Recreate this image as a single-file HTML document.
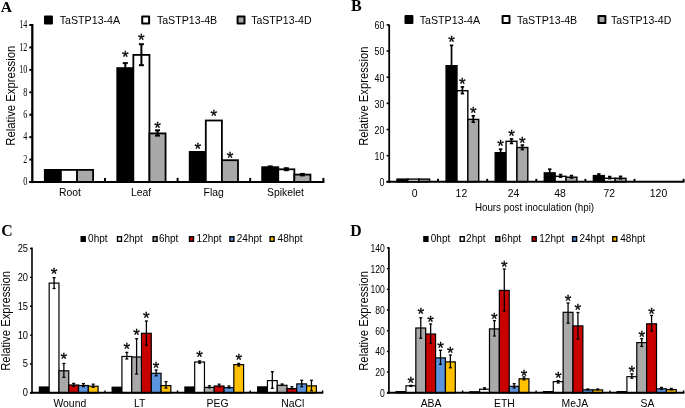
<!DOCTYPE html><html><head><meta charset="utf-8"><style>html,body{margin:0;padding:0;background:#fff;overflow:hidden;width:685px;height:408px;}svg{display:block;will-change:transform;}</style></head><body>
<svg width="685" height="408" viewBox="0 0 685 408">
<rect width="685" height="408" fill="#fff"/>
<rect x="44.80" y="169.90" width="16.10" height="12.10" fill="#000" stroke="#000" stroke-width="1.8"/>
<rect x="60.90" y="169.90" width="16.10" height="12.10" fill="#fff" stroke="#000" stroke-width="1.8"/>
<rect x="77.00" y="169.90" width="16.10" height="12.10" fill="#a9a9a9" stroke="#000" stroke-width="1.8"/>
<rect x="117.25" y="68.10" width="16.10" height="113.90" fill="#000" stroke="#000" stroke-width="1.8"/>
<rect x="133.35" y="54.90" width="16.10" height="127.10" fill="#fff" stroke="#000" stroke-width="1.8"/>
<rect x="149.45" y="133.40" width="16.10" height="48.60" fill="#a9a9a9" stroke="#000" stroke-width="1.8"/>
<rect x="189.70" y="151.90" width="16.10" height="30.10" fill="#000" stroke="#000" stroke-width="1.8"/>
<rect x="205.80" y="120.50" width="16.10" height="61.50" fill="#fff" stroke="#000" stroke-width="1.8"/>
<rect x="221.90" y="160.20" width="16.10" height="21.80" fill="#a9a9a9" stroke="#000" stroke-width="1.8"/>
<rect x="262.15" y="167.20" width="16.10" height="14.80" fill="#000" stroke="#000" stroke-width="1.8"/>
<rect x="278.25" y="169.30" width="16.10" height="12.70" fill="#fff" stroke="#000" stroke-width="1.8"/>
<rect x="294.35" y="174.60" width="16.10" height="7.40" fill="#a9a9a9" stroke="#000" stroke-width="1.8"/>
<line x1="125.3" y1="63.1" x2="125.3" y2="71.3" stroke="#000" stroke-width="2.0" stroke-linecap="butt"/>
<line x1="122.8" y1="63.1" x2="127.8" y2="63.1" stroke="#000" stroke-width="2.0" stroke-linecap="butt"/>
<line x1="122.8" y1="71.3" x2="127.8" y2="71.3" stroke="#000" stroke-width="2.0" stroke-linecap="butt"/>
<line x1="141.4" y1="44.2" x2="141.4" y2="65.2" stroke="#000" stroke-width="2.0" stroke-linecap="butt"/>
<line x1="138.9" y1="44.2" x2="143.9" y2="44.2" stroke="#000" stroke-width="2.0" stroke-linecap="butt"/>
<line x1="138.9" y1="65.2" x2="143.9" y2="65.2" stroke="#000" stroke-width="2.0" stroke-linecap="butt"/>
<line x1="157.5" y1="130.3" x2="157.5" y2="135.6" stroke="#000" stroke-width="2.0" stroke-linecap="butt"/>
<line x1="155.0" y1="130.3" x2="160.0" y2="130.3" stroke="#000" stroke-width="2.0" stroke-linecap="butt"/>
<line x1="155.0" y1="135.6" x2="160.0" y2="135.6" stroke="#000" stroke-width="2.0" stroke-linecap="butt"/>
<line x1="270.2" y1="166.4" x2="270.2" y2="168.6" stroke="#000" stroke-width="2.0" stroke-linecap="butt"/>
<line x1="267.7" y1="166.4" x2="272.7" y2="166.4" stroke="#000" stroke-width="2.0" stroke-linecap="butt"/>
<line x1="267.7" y1="168.6" x2="272.7" y2="168.6" stroke="#000" stroke-width="2.0" stroke-linecap="butt"/>
<line x1="286.3" y1="168.2" x2="286.3" y2="170.2" stroke="#000" stroke-width="2.0" stroke-linecap="butt"/>
<line x1="283.8" y1="168.2" x2="288.8" y2="168.2" stroke="#000" stroke-width="2.0" stroke-linecap="butt"/>
<line x1="283.8" y1="170.2" x2="288.8" y2="170.2" stroke="#000" stroke-width="2.0" stroke-linecap="butt"/>
<line x1="302.4" y1="173.9" x2="302.4" y2="175.4" stroke="#000" stroke-width="2.0" stroke-linecap="butt"/>
<line x1="299.9" y1="173.9" x2="304.9" y2="173.9" stroke="#000" stroke-width="2.0" stroke-linecap="butt"/>
<line x1="299.9" y1="175.4" x2="304.9" y2="175.4" stroke="#000" stroke-width="2.0" stroke-linecap="butt"/>
<text x="125.30" y="62.77" font-size="17" font-family='"Liberation Sans", sans-serif' text-anchor="middle" stroke="#000" stroke-width="0.3">*</text>
<text x="141.40" y="46.32" font-size="17" font-family='"Liberation Sans", sans-serif' text-anchor="middle" stroke="#000" stroke-width="0.3">*</text>
<text x="157.50" y="133.67" font-size="17" font-family='"Liberation Sans", sans-serif' text-anchor="middle" stroke="#000" stroke-width="0.3">*</text>
<text x="197.75" y="154.67" font-size="17" font-family='"Liberation Sans", sans-serif' text-anchor="middle" stroke="#000" stroke-width="0.3">*</text>
<text x="213.85" y="121.82" font-size="17" font-family='"Liberation Sans", sans-serif' text-anchor="middle" stroke="#000" stroke-width="0.3">*</text>
<text x="229.95" y="163.97" font-size="17" font-family='"Liberation Sans", sans-serif' text-anchor="middle" stroke="#000" stroke-width="0.3">*</text>
<line x1="32.3" y1="24.0" x2="32.3" y2="183.1" stroke="#000" stroke-width="2.3" stroke-linecap="butt"/>
<line x1="29.3" y1="182.0" x2="324.3" y2="182.0" stroke="#000" stroke-width="2.2" stroke-linecap="butt"/>
<line x1="29.299999999999997" y1="182.0" x2="32.3" y2="182.0" stroke="#000" stroke-width="2.0" stroke-linecap="butt"/>
<text x="27.3" y="185.3" font-size="11.6" font-family='"Liberation Serif", serif' font-weight="normal" text-anchor="end" textLength="4.06" lengthAdjust="spacingAndGlyphs">0</text>
<line x1="29.299999999999997" y1="159.572" x2="32.3" y2="159.572" stroke="#000" stroke-width="2.0" stroke-linecap="butt"/>
<text x="27.3" y="162.872" font-size="11.6" font-family='"Liberation Serif", serif' font-weight="normal" text-anchor="end" textLength="4.06" lengthAdjust="spacingAndGlyphs">2</text>
<line x1="29.299999999999997" y1="137.144" x2="32.3" y2="137.144" stroke="#000" stroke-width="2.0" stroke-linecap="butt"/>
<text x="27.3" y="140.44400000000002" font-size="11.6" font-family='"Liberation Serif", serif' font-weight="normal" text-anchor="end" textLength="4.06" lengthAdjust="spacingAndGlyphs">4</text>
<line x1="29.299999999999997" y1="114.716" x2="32.3" y2="114.716" stroke="#000" stroke-width="2.0" stroke-linecap="butt"/>
<text x="27.3" y="118.01599999999999" font-size="11.6" font-family='"Liberation Serif", serif' font-weight="normal" text-anchor="end" textLength="4.06" lengthAdjust="spacingAndGlyphs">6</text>
<line x1="29.299999999999997" y1="92.288" x2="32.3" y2="92.288" stroke="#000" stroke-width="2.0" stroke-linecap="butt"/>
<text x="27.3" y="95.588" font-size="11.6" font-family='"Liberation Serif", serif' font-weight="normal" text-anchor="end" textLength="4.06" lengthAdjust="spacingAndGlyphs">8</text>
<line x1="29.299999999999997" y1="69.86" x2="32.3" y2="69.86" stroke="#000" stroke-width="2.0" stroke-linecap="butt"/>
<text x="27.3" y="73.16" font-size="11.6" font-family='"Liberation Serif", serif' font-weight="normal" text-anchor="end" textLength="8.12" lengthAdjust="spacingAndGlyphs">10</text>
<line x1="29.299999999999997" y1="47.43199999999999" x2="32.3" y2="47.43199999999999" stroke="#000" stroke-width="2.0" stroke-linecap="butt"/>
<text x="27.3" y="50.731999999999985" font-size="11.6" font-family='"Liberation Serif", serif' font-weight="normal" text-anchor="end" textLength="8.12" lengthAdjust="spacingAndGlyphs">12</text>
<line x1="29.299999999999997" y1="25.00399999999999" x2="32.3" y2="25.00399999999999" stroke="#000" stroke-width="2.0" stroke-linecap="butt"/>
<text x="27.3" y="28.30399999999999" font-size="11.6" font-family='"Liberation Serif", serif' font-weight="normal" text-anchor="end" textLength="8.12" lengthAdjust="spacingAndGlyphs">14</text>
<line x1="105.0" y1="177.9" x2="105.0" y2="182.0" stroke="#000" stroke-width="2.0" stroke-linecap="butt"/>
<line x1="177.6" y1="177.9" x2="177.6" y2="182.0" stroke="#000" stroke-width="2.0" stroke-linecap="butt"/>
<line x1="250.2" y1="177.9" x2="250.2" y2="182.0" stroke="#000" stroke-width="2.0" stroke-linecap="butt"/>
<line x1="323.4" y1="177.9" x2="323.4" y2="182.0" stroke="#000" stroke-width="2.0" stroke-linecap="butt"/>
<rect x="397.00" y="179.10" width="10.87" height="2.70" fill="#000" stroke="#000" stroke-width="1.4"/>
<rect x="407.87" y="179.10" width="10.87" height="2.70" fill="#fff" stroke="#000" stroke-width="1.4"/>
<rect x="418.73" y="179.10" width="10.87" height="2.70" fill="#a9a9a9" stroke="#000" stroke-width="1.4"/>
<rect x="446.10" y="65.70" width="10.87" height="116.10" fill="#000" stroke="#000" stroke-width="1.4"/>
<rect x="456.97" y="90.70" width="10.87" height="91.10" fill="#fff" stroke="#000" stroke-width="1.4"/>
<rect x="467.83" y="119.40" width="10.87" height="62.40" fill="#a9a9a9" stroke="#000" stroke-width="1.4"/>
<rect x="495.20" y="152.70" width="10.87" height="29.10" fill="#000" stroke="#000" stroke-width="1.4"/>
<rect x="506.07" y="141.30" width="10.87" height="40.50" fill="#fff" stroke="#000" stroke-width="1.4"/>
<rect x="516.93" y="147.50" width="10.87" height="34.30" fill="#a9a9a9" stroke="#000" stroke-width="1.4"/>
<rect x="544.30" y="172.90" width="10.87" height="8.90" fill="#000" stroke="#000" stroke-width="1.4"/>
<rect x="555.17" y="176.30" width="10.87" height="5.50" fill="#fff" stroke="#000" stroke-width="1.4"/>
<rect x="566.03" y="177.20" width="10.87" height="4.60" fill="#a9a9a9" stroke="#000" stroke-width="1.4"/>
<rect x="593.40" y="175.60" width="10.87" height="6.20" fill="#000" stroke="#000" stroke-width="1.4"/>
<rect x="604.27" y="178.30" width="10.87" height="3.50" fill="#fff" stroke="#000" stroke-width="1.4"/>
<rect x="615.13" y="178.30" width="10.87" height="3.50" fill="#a9a9a9" stroke="#000" stroke-width="1.4"/>
<line x1="451.53333333333336" y1="45.4" x2="451.53333333333336" y2="84.6" stroke="#000" stroke-width="1.7" stroke-linecap="butt"/>
<line x1="449.83333333333337" y1="45.4" x2="453.23333333333335" y2="45.4" stroke="#000" stroke-width="1.7" stroke-linecap="butt"/>
<line x1="449.83333333333337" y1="84.6" x2="453.23333333333335" y2="84.6" stroke="#000" stroke-width="1.7" stroke-linecap="butt"/>
<line x1="462.40000000000003" y1="86.9" x2="462.40000000000003" y2="93.6" stroke="#000" stroke-width="1.7" stroke-linecap="butt"/>
<line x1="460.70000000000005" y1="86.9" x2="464.1" y2="86.9" stroke="#000" stroke-width="1.7" stroke-linecap="butt"/>
<line x1="460.70000000000005" y1="93.6" x2="464.1" y2="93.6" stroke="#000" stroke-width="1.7" stroke-linecap="butt"/>
<line x1="473.2666666666667" y1="115.8" x2="473.2666666666667" y2="122.2" stroke="#000" stroke-width="1.7" stroke-linecap="butt"/>
<line x1="471.5666666666667" y1="115.8" x2="474.9666666666667" y2="115.8" stroke="#000" stroke-width="1.7" stroke-linecap="butt"/>
<line x1="471.5666666666667" y1="122.2" x2="474.9666666666667" y2="122.2" stroke="#000" stroke-width="1.7" stroke-linecap="butt"/>
<line x1="500.6333333333333" y1="149.2" x2="500.6333333333333" y2="154.6" stroke="#000" stroke-width="1.7" stroke-linecap="butt"/>
<line x1="498.93333333333334" y1="149.2" x2="502.3333333333333" y2="149.2" stroke="#000" stroke-width="1.7" stroke-linecap="butt"/>
<line x1="498.93333333333334" y1="154.6" x2="502.3333333333333" y2="154.6" stroke="#000" stroke-width="1.7" stroke-linecap="butt"/>
<line x1="511.5" y1="139.0" x2="511.5" y2="143.4" stroke="#000" stroke-width="1.7" stroke-linecap="butt"/>
<line x1="509.8" y1="139.0" x2="513.2" y2="139.0" stroke="#000" stroke-width="1.7" stroke-linecap="butt"/>
<line x1="509.8" y1="143.4" x2="513.2" y2="143.4" stroke="#000" stroke-width="1.7" stroke-linecap="butt"/>
<line x1="522.3666666666666" y1="145.1" x2="522.3666666666666" y2="149.5" stroke="#000" stroke-width="1.7" stroke-linecap="butt"/>
<line x1="520.6666666666665" y1="145.1" x2="524.0666666666666" y2="145.1" stroke="#000" stroke-width="1.7" stroke-linecap="butt"/>
<line x1="520.6666666666665" y1="149.5" x2="524.0666666666666" y2="149.5" stroke="#000" stroke-width="1.7" stroke-linecap="butt"/>
<line x1="549.7333333333333" y1="169.2" x2="549.7333333333333" y2="175.2" stroke="#000" stroke-width="1.7" stroke-linecap="butt"/>
<line x1="548.0333333333333" y1="169.2" x2="551.4333333333334" y2="169.2" stroke="#000" stroke-width="1.7" stroke-linecap="butt"/>
<line x1="548.0333333333333" y1="175.2" x2="551.4333333333334" y2="175.2" stroke="#000" stroke-width="1.7" stroke-linecap="butt"/>
<line x1="560.6" y1="174.6" x2="560.6" y2="177.2" stroke="#000" stroke-width="1.7" stroke-linecap="butt"/>
<line x1="558.9" y1="174.6" x2="562.3000000000001" y2="174.6" stroke="#000" stroke-width="1.7" stroke-linecap="butt"/>
<line x1="558.9" y1="177.2" x2="562.3000000000001" y2="177.2" stroke="#000" stroke-width="1.7" stroke-linecap="butt"/>
<line x1="571.4666666666667" y1="175.6" x2="571.4666666666667" y2="178.0" stroke="#000" stroke-width="1.7" stroke-linecap="butt"/>
<line x1="569.7666666666667" y1="175.6" x2="573.1666666666667" y2="175.6" stroke="#000" stroke-width="1.7" stroke-linecap="butt"/>
<line x1="569.7666666666667" y1="178.0" x2="573.1666666666667" y2="178.0" stroke="#000" stroke-width="1.7" stroke-linecap="butt"/>
<line x1="598.8333333333334" y1="174.0" x2="598.8333333333334" y2="176.0" stroke="#000" stroke-width="1.7" stroke-linecap="butt"/>
<line x1="597.1333333333333" y1="174.0" x2="600.5333333333334" y2="174.0" stroke="#000" stroke-width="1.7" stroke-linecap="butt"/>
<line x1="597.1333333333333" y1="176.0" x2="600.5333333333334" y2="176.0" stroke="#000" stroke-width="1.7" stroke-linecap="butt"/>
<line x1="609.7" y1="176.6" x2="609.7" y2="178.6" stroke="#000" stroke-width="1.7" stroke-linecap="butt"/>
<line x1="608.0" y1="176.6" x2="611.4000000000001" y2="176.6" stroke="#000" stroke-width="1.7" stroke-linecap="butt"/>
<line x1="608.0" y1="178.6" x2="611.4000000000001" y2="178.6" stroke="#000" stroke-width="1.7" stroke-linecap="butt"/>
<line x1="620.5666666666667" y1="176.4" x2="620.5666666666667" y2="178.8" stroke="#000" stroke-width="1.7" stroke-linecap="butt"/>
<line x1="618.8666666666667" y1="176.4" x2="622.2666666666668" y2="176.4" stroke="#000" stroke-width="1.7" stroke-linecap="butt"/>
<line x1="618.8666666666667" y1="178.8" x2="622.2666666666668" y2="178.8" stroke="#000" stroke-width="1.7" stroke-linecap="butt"/>
<text x="451.53" y="48.12" font-size="17" font-family='"Liberation Sans", sans-serif' text-anchor="middle" stroke="#000" stroke-width="0.3">*</text>
<text x="462.40" y="90.17" font-size="17" font-family='"Liberation Sans", sans-serif' text-anchor="middle" stroke="#000" stroke-width="0.3">*</text>
<text x="473.27" y="118.97" font-size="17" font-family='"Liberation Sans", sans-serif' text-anchor="middle" stroke="#000" stroke-width="0.3">*</text>
<text x="500.63" y="152.17" font-size="17" font-family='"Liberation Sans", sans-serif' text-anchor="middle" stroke="#000" stroke-width="0.3">*</text>
<text x="511.50" y="142.22" font-size="17" font-family='"Liberation Sans", sans-serif' text-anchor="middle" stroke="#000" stroke-width="0.3">*</text>
<text x="522.37" y="149.02" font-size="17" font-family='"Liberation Sans", sans-serif' text-anchor="middle" stroke="#000" stroke-width="0.3">*</text>
<line x1="389.2" y1="24.6" x2="389.2" y2="182.75" stroke="#000" stroke-width="1.8" stroke-linecap="butt"/>
<line x1="386.4" y1="181.8" x2="684.4" y2="181.8" stroke="#000" stroke-width="1.9" stroke-linecap="butt"/>
<line x1="386.59999999999997" y1="181.8" x2="389.2" y2="181.8" stroke="#000" stroke-width="1.6" stroke-linecap="butt"/>
<text x="384.4" y="186.20000000000002" font-size="10.2" font-family='"Liberation Sans", sans-serif' font-weight="normal" text-anchor="end" textLength="4.94" lengthAdjust="spacingAndGlyphs">0</text>
<line x1="386.59999999999997" y1="155.65" x2="389.2" y2="155.65" stroke="#000" stroke-width="1.6" stroke-linecap="butt"/>
<text x="384.4" y="160.05" font-size="10.2" font-family='"Liberation Sans", sans-serif' font-weight="normal" text-anchor="end" textLength="9.87" lengthAdjust="spacingAndGlyphs">10</text>
<line x1="386.59999999999997" y1="129.5" x2="389.2" y2="129.5" stroke="#000" stroke-width="1.6" stroke-linecap="butt"/>
<text x="384.4" y="133.9" font-size="10.2" font-family='"Liberation Sans", sans-serif' font-weight="normal" text-anchor="end" textLength="9.87" lengthAdjust="spacingAndGlyphs">20</text>
<line x1="386.59999999999997" y1="103.35000000000001" x2="389.2" y2="103.35000000000001" stroke="#000" stroke-width="1.6" stroke-linecap="butt"/>
<text x="384.4" y="107.75000000000001" font-size="10.2" font-family='"Liberation Sans", sans-serif' font-weight="normal" text-anchor="end" textLength="9.87" lengthAdjust="spacingAndGlyphs">30</text>
<line x1="386.59999999999997" y1="77.2" x2="389.2" y2="77.2" stroke="#000" stroke-width="1.6" stroke-linecap="butt"/>
<text x="384.4" y="81.60000000000001" font-size="10.2" font-family='"Liberation Sans", sans-serif' font-weight="normal" text-anchor="end" textLength="9.87" lengthAdjust="spacingAndGlyphs">40</text>
<line x1="386.59999999999997" y1="51.05000000000001" x2="389.2" y2="51.05000000000001" stroke="#000" stroke-width="1.6" stroke-linecap="butt"/>
<text x="384.4" y="55.45000000000001" font-size="10.2" font-family='"Liberation Sans", sans-serif' font-weight="normal" text-anchor="end" textLength="9.87" lengthAdjust="spacingAndGlyphs">50</text>
<line x1="386.59999999999997" y1="24.900000000000006" x2="389.2" y2="24.900000000000006" stroke="#000" stroke-width="1.6" stroke-linecap="butt"/>
<text x="384.4" y="29.300000000000004" font-size="10.2" font-family='"Liberation Sans", sans-serif' font-weight="normal" text-anchor="end" textLength="9.87" lengthAdjust="spacingAndGlyphs">60</text>
<line x1="438.0" y1="178.8" x2="438.0" y2="181.8" stroke="#000" stroke-width="1.9" stroke-linecap="butt"/>
<line x1="487.2" y1="178.8" x2="487.2" y2="181.8" stroke="#000" stroke-width="1.9" stroke-linecap="butt"/>
<line x1="536.3" y1="178.8" x2="536.3" y2="181.8" stroke="#000" stroke-width="1.9" stroke-linecap="butt"/>
<line x1="585.4" y1="178.8" x2="585.4" y2="181.8" stroke="#000" stroke-width="1.9" stroke-linecap="butt"/>
<line x1="634.5" y1="178.8" x2="634.5" y2="181.8" stroke="#000" stroke-width="1.9" stroke-linecap="butt"/>
<line x1="683.6" y1="178.8" x2="683.6" y2="181.8" stroke="#000" stroke-width="1.9" stroke-linecap="butt"/>
<rect x="39.40" y="387.00" width="9.78" height="5.80" fill="#000" stroke="#000" stroke-width="1.2"/>
<rect x="49.18" y="283.10" width="9.78" height="109.70" fill="#fff" stroke="#000" stroke-width="1.2"/>
<rect x="58.97" y="370.80" width="9.78" height="22.00" fill="#a9a9a9" stroke="#000" stroke-width="1.2"/>
<rect x="68.75" y="385.00" width="9.78" height="7.80" fill="#c80000" stroke="#000" stroke-width="1.2"/>
<rect x="78.53" y="385.50" width="9.78" height="7.30" fill="#5b93dc" stroke="#000" stroke-width="1.2"/>
<rect x="88.32" y="386.20" width="9.78" height="6.60" fill="#ffc000" stroke="#000" stroke-width="1.2"/>
<rect x="112.15" y="387.20" width="9.78" height="5.60" fill="#000" stroke="#000" stroke-width="1.2"/>
<rect x="121.93" y="356.50" width="9.78" height="36.30" fill="#fff" stroke="#000" stroke-width="1.2"/>
<rect x="131.72" y="357.00" width="9.78" height="35.80" fill="#a9a9a9" stroke="#000" stroke-width="1.2"/>
<rect x="141.50" y="333.30" width="9.78" height="59.50" fill="#c80000" stroke="#000" stroke-width="1.2"/>
<rect x="151.28" y="373.30" width="9.78" height="19.50" fill="#5b93dc" stroke="#000" stroke-width="1.2"/>
<rect x="161.07" y="385.60" width="9.78" height="7.20" fill="#ffc000" stroke="#000" stroke-width="1.2"/>
<rect x="184.90" y="387.00" width="9.78" height="5.80" fill="#000" stroke="#000" stroke-width="1.2"/>
<rect x="194.68" y="362.00" width="9.78" height="30.80" fill="#fff" stroke="#000" stroke-width="1.2"/>
<rect x="204.47" y="387.40" width="9.78" height="5.40" fill="#a9a9a9" stroke="#000" stroke-width="1.2"/>
<rect x="214.25" y="386.00" width="9.78" height="6.80" fill="#c80000" stroke="#000" stroke-width="1.2"/>
<rect x="224.03" y="387.60" width="9.78" height="5.20" fill="#5b93dc" stroke="#000" stroke-width="1.2"/>
<rect x="233.82" y="364.60" width="9.78" height="28.20" fill="#ffc000" stroke="#000" stroke-width="1.2"/>
<rect x="257.65" y="386.90" width="9.78" height="5.90" fill="#000" stroke="#000" stroke-width="1.2"/>
<rect x="267.43" y="380.60" width="9.78" height="12.20" fill="#fff" stroke="#000" stroke-width="1.2"/>
<rect x="277.22" y="385.30" width="9.78" height="7.50" fill="#a9a9a9" stroke="#000" stroke-width="1.2"/>
<rect x="287.00" y="388.60" width="9.78" height="4.20" fill="#c80000" stroke="#000" stroke-width="1.2"/>
<rect x="296.78" y="383.90" width="9.78" height="8.90" fill="#5b93dc" stroke="#000" stroke-width="1.2"/>
<rect x="306.57" y="385.90" width="9.78" height="6.90" fill="#ffc000" stroke="#000" stroke-width="1.2"/>
<line x1="54.074999999999996" y1="277.7" x2="54.074999999999996" y2="288.5" stroke="#000" stroke-width="1.3" stroke-linecap="butt"/>
<line x1="52.574999999999996" y1="277.7" x2="55.574999999999996" y2="277.7" stroke="#000" stroke-width="1.3" stroke-linecap="butt"/>
<line x1="52.574999999999996" y1="288.5" x2="55.574999999999996" y2="288.5" stroke="#000" stroke-width="1.3" stroke-linecap="butt"/>
<line x1="63.858333333333334" y1="363.5" x2="63.858333333333334" y2="377.4" stroke="#000" stroke-width="1.3" stroke-linecap="butt"/>
<line x1="62.358333333333334" y1="363.5" x2="65.35833333333333" y2="363.5" stroke="#000" stroke-width="1.3" stroke-linecap="butt"/>
<line x1="62.358333333333334" y1="377.4" x2="65.35833333333333" y2="377.4" stroke="#000" stroke-width="1.3" stroke-linecap="butt"/>
<line x1="73.64166666666667" y1="383.4" x2="73.64166666666667" y2="386.4" stroke="#000" stroke-width="1.3" stroke-linecap="butt"/>
<line x1="72.14166666666667" y1="383.4" x2="75.14166666666667" y2="383.4" stroke="#000" stroke-width="1.3" stroke-linecap="butt"/>
<line x1="72.14166666666667" y1="386.4" x2="75.14166666666667" y2="386.4" stroke="#000" stroke-width="1.3" stroke-linecap="butt"/>
<line x1="83.425" y1="383.6" x2="83.425" y2="386.6" stroke="#000" stroke-width="1.3" stroke-linecap="butt"/>
<line x1="81.925" y1="383.6" x2="84.925" y2="383.6" stroke="#000" stroke-width="1.3" stroke-linecap="butt"/>
<line x1="81.925" y1="386.6" x2="84.925" y2="386.6" stroke="#000" stroke-width="1.3" stroke-linecap="butt"/>
<line x1="93.20833333333333" y1="384.2" x2="93.20833333333333" y2="387.2" stroke="#000" stroke-width="1.3" stroke-linecap="butt"/>
<line x1="91.70833333333333" y1="384.2" x2="94.70833333333333" y2="384.2" stroke="#000" stroke-width="1.3" stroke-linecap="butt"/>
<line x1="91.70833333333333" y1="387.2" x2="94.70833333333333" y2="387.2" stroke="#000" stroke-width="1.3" stroke-linecap="butt"/>
<line x1="126.82499999999999" y1="352.4" x2="126.82499999999999" y2="359.0" stroke="#000" stroke-width="1.3" stroke-linecap="butt"/>
<line x1="125.32499999999999" y1="352.4" x2="128.325" y2="352.4" stroke="#000" stroke-width="1.3" stroke-linecap="butt"/>
<line x1="125.32499999999999" y1="359.0" x2="128.325" y2="359.0" stroke="#000" stroke-width="1.3" stroke-linecap="butt"/>
<line x1="136.60833333333335" y1="338.7" x2="136.60833333333335" y2="374.0" stroke="#000" stroke-width="1.3" stroke-linecap="butt"/>
<line x1="135.10833333333335" y1="338.7" x2="138.10833333333335" y2="338.7" stroke="#000" stroke-width="1.3" stroke-linecap="butt"/>
<line x1="135.10833333333335" y1="374.0" x2="138.10833333333335" y2="374.0" stroke="#000" stroke-width="1.3" stroke-linecap="butt"/>
<line x1="146.39166666666668" y1="321.0" x2="146.39166666666668" y2="345.3" stroke="#000" stroke-width="1.3" stroke-linecap="butt"/>
<line x1="144.89166666666668" y1="321.0" x2="147.89166666666668" y2="321.0" stroke="#000" stroke-width="1.3" stroke-linecap="butt"/>
<line x1="144.89166666666668" y1="345.3" x2="147.89166666666668" y2="345.3" stroke="#000" stroke-width="1.3" stroke-linecap="butt"/>
<line x1="156.175" y1="370.0" x2="156.175" y2="375.8" stroke="#000" stroke-width="1.3" stroke-linecap="butt"/>
<line x1="154.675" y1="370.0" x2="157.675" y2="370.0" stroke="#000" stroke-width="1.3" stroke-linecap="butt"/>
<line x1="154.675" y1="375.8" x2="157.675" y2="375.8" stroke="#000" stroke-width="1.3" stroke-linecap="butt"/>
<line x1="165.95833333333334" y1="381.7" x2="165.95833333333334" y2="388.0" stroke="#000" stroke-width="1.3" stroke-linecap="butt"/>
<line x1="164.45833333333334" y1="381.7" x2="167.45833333333334" y2="381.7" stroke="#000" stroke-width="1.3" stroke-linecap="butt"/>
<line x1="164.45833333333334" y1="388.0" x2="167.45833333333334" y2="388.0" stroke="#000" stroke-width="1.3" stroke-linecap="butt"/>
<line x1="199.57500000000002" y1="360.9" x2="199.57500000000002" y2="363.2" stroke="#000" stroke-width="1.3" stroke-linecap="butt"/>
<line x1="198.07500000000002" y1="360.9" x2="201.07500000000002" y2="360.9" stroke="#000" stroke-width="1.3" stroke-linecap="butt"/>
<line x1="198.07500000000002" y1="363.2" x2="201.07500000000002" y2="363.2" stroke="#000" stroke-width="1.3" stroke-linecap="butt"/>
<line x1="209.35833333333335" y1="385.8" x2="209.35833333333335" y2="387.8" stroke="#000" stroke-width="1.3" stroke-linecap="butt"/>
<line x1="207.85833333333335" y1="385.8" x2="210.85833333333335" y2="385.8" stroke="#000" stroke-width="1.3" stroke-linecap="butt"/>
<line x1="207.85833333333335" y1="387.8" x2="210.85833333333335" y2="387.8" stroke="#000" stroke-width="1.3" stroke-linecap="butt"/>
<line x1="219.14166666666668" y1="384.2" x2="219.14166666666668" y2="386.6" stroke="#000" stroke-width="1.3" stroke-linecap="butt"/>
<line x1="217.64166666666668" y1="384.2" x2="220.64166666666668" y2="384.2" stroke="#000" stroke-width="1.3" stroke-linecap="butt"/>
<line x1="217.64166666666668" y1="386.6" x2="220.64166666666668" y2="386.6" stroke="#000" stroke-width="1.3" stroke-linecap="butt"/>
<line x1="228.925" y1="386.0" x2="228.925" y2="388.0" stroke="#000" stroke-width="1.3" stroke-linecap="butt"/>
<line x1="227.425" y1="386.0" x2="230.425" y2="386.0" stroke="#000" stroke-width="1.3" stroke-linecap="butt"/>
<line x1="227.425" y1="388.0" x2="230.425" y2="388.0" stroke="#000" stroke-width="1.3" stroke-linecap="butt"/>
<line x1="238.70833333333334" y1="363.4" x2="238.70833333333334" y2="366.0" stroke="#000" stroke-width="1.3" stroke-linecap="butt"/>
<line x1="237.20833333333334" y1="363.4" x2="240.20833333333334" y2="363.4" stroke="#000" stroke-width="1.3" stroke-linecap="butt"/>
<line x1="237.20833333333334" y1="366.0" x2="240.20833333333334" y2="366.0" stroke="#000" stroke-width="1.3" stroke-linecap="butt"/>
<line x1="272.32500000000005" y1="371.7" x2="272.32500000000005" y2="388.3" stroke="#000" stroke-width="1.3" stroke-linecap="butt"/>
<line x1="270.82500000000005" y1="371.7" x2="273.82500000000005" y2="371.7" stroke="#000" stroke-width="1.3" stroke-linecap="butt"/>
<line x1="270.82500000000005" y1="388.3" x2="273.82500000000005" y2="388.3" stroke="#000" stroke-width="1.3" stroke-linecap="butt"/>
<line x1="282.10833333333335" y1="384.0" x2="282.10833333333335" y2="385.4" stroke="#000" stroke-width="1.3" stroke-linecap="butt"/>
<line x1="280.60833333333335" y1="384.0" x2="283.60833333333335" y2="384.0" stroke="#000" stroke-width="1.3" stroke-linecap="butt"/>
<line x1="280.60833333333335" y1="385.4" x2="283.60833333333335" y2="385.4" stroke="#000" stroke-width="1.3" stroke-linecap="butt"/>
<line x1="291.8916666666667" y1="386.7" x2="291.8916666666667" y2="389.0" stroke="#000" stroke-width="1.3" stroke-linecap="butt"/>
<line x1="290.3916666666667" y1="386.7" x2="293.3916666666667" y2="386.7" stroke="#000" stroke-width="1.3" stroke-linecap="butt"/>
<line x1="290.3916666666667" y1="389.0" x2="293.3916666666667" y2="389.0" stroke="#000" stroke-width="1.3" stroke-linecap="butt"/>
<line x1="301.675" y1="380.3" x2="301.675" y2="386.7" stroke="#000" stroke-width="1.3" stroke-linecap="butt"/>
<line x1="300.175" y1="380.3" x2="303.175" y2="380.3" stroke="#000" stroke-width="1.3" stroke-linecap="butt"/>
<line x1="300.175" y1="386.7" x2="303.175" y2="386.7" stroke="#000" stroke-width="1.3" stroke-linecap="butt"/>
<line x1="311.45833333333337" y1="380.3" x2="311.45833333333337" y2="390.8" stroke="#000" stroke-width="1.3" stroke-linecap="butt"/>
<line x1="309.95833333333337" y1="380.3" x2="312.95833333333337" y2="380.3" stroke="#000" stroke-width="1.3" stroke-linecap="butt"/>
<line x1="309.95833333333337" y1="390.8" x2="312.95833333333337" y2="390.8" stroke="#000" stroke-width="1.3" stroke-linecap="butt"/>
<text x="54.07" y="279.82" font-size="17" font-family='"Liberation Sans", sans-serif' text-anchor="middle" stroke="#000" stroke-width="0.3">*</text>
<text x="63.86" y="365.47" font-size="17" font-family='"Liberation Sans", sans-serif' text-anchor="middle" stroke="#000" stroke-width="0.3">*</text>
<text x="126.82" y="354.92" font-size="17" font-family='"Liberation Sans", sans-serif' text-anchor="middle" stroke="#000" stroke-width="0.3">*</text>
<text x="136.61" y="341.37" font-size="17" font-family='"Liberation Sans", sans-serif' text-anchor="middle" stroke="#000" stroke-width="0.3">*</text>
<text x="146.39" y="324.22" font-size="17" font-family='"Liberation Sans", sans-serif' text-anchor="middle" stroke="#000" stroke-width="0.3">*</text>
<text x="156.18" y="374.47" font-size="17" font-family='"Liberation Sans", sans-serif' text-anchor="middle" stroke="#000" stroke-width="0.3">*</text>
<text x="199.58" y="363.02" font-size="17" font-family='"Liberation Sans", sans-serif' text-anchor="middle" stroke="#000" stroke-width="0.3">*</text>
<text x="238.71" y="366.32" font-size="17" font-family='"Liberation Sans", sans-serif' text-anchor="middle" stroke="#000" stroke-width="0.3">*</text>
<line x1="32.0" y1="247.4" x2="32.0" y2="393.75" stroke="#000" stroke-width="1.6" stroke-linecap="butt"/>
<line x1="30.2" y1="392.8" x2="323.2" y2="392.8" stroke="#000" stroke-width="1.9" stroke-linecap="butt"/>
<line x1="30.0" y1="392.8" x2="32.0" y2="392.8" stroke="#000" stroke-width="1.4" stroke-linecap="butt"/>
<text x="28.0" y="396.3" font-size="10.0" font-family='"Liberation Sans", sans-serif' font-weight="normal" text-anchor="end" textLength="5.17" lengthAdjust="spacingAndGlyphs">0</text>
<line x1="30.0" y1="363.95" x2="32.0" y2="363.95" stroke="#000" stroke-width="1.4" stroke-linecap="butt"/>
<text x="28.0" y="367.45" font-size="10.0" font-family='"Liberation Sans", sans-serif' font-weight="normal" text-anchor="end" textLength="5.17" lengthAdjust="spacingAndGlyphs">5</text>
<line x1="30.0" y1="335.1" x2="32.0" y2="335.1" stroke="#000" stroke-width="1.4" stroke-linecap="butt"/>
<text x="28.0" y="338.6" font-size="10.0" font-family='"Liberation Sans", sans-serif' font-weight="normal" text-anchor="end" textLength="10.34" lengthAdjust="spacingAndGlyphs">10</text>
<line x1="30.0" y1="306.25" x2="32.0" y2="306.25" stroke="#000" stroke-width="1.4" stroke-linecap="butt"/>
<text x="28.0" y="309.75" font-size="10.0" font-family='"Liberation Sans", sans-serif' font-weight="normal" text-anchor="end" textLength="10.34" lengthAdjust="spacingAndGlyphs">15</text>
<line x1="30.0" y1="277.40000000000003" x2="32.0" y2="277.40000000000003" stroke="#000" stroke-width="1.4" stroke-linecap="butt"/>
<text x="28.0" y="280.90000000000003" font-size="10.0" font-family='"Liberation Sans", sans-serif' font-weight="normal" text-anchor="end" textLength="10.34" lengthAdjust="spacingAndGlyphs">20</text>
<line x1="30.0" y1="248.55" x2="32.0" y2="248.55" stroke="#000" stroke-width="1.4" stroke-linecap="butt"/>
<text x="28.0" y="252.05" font-size="10.0" font-family='"Liberation Sans", sans-serif' font-weight="normal" text-anchor="end" textLength="10.34" lengthAdjust="spacingAndGlyphs">25</text>
<line x1="105.0" y1="390.40000000000003" x2="105.0" y2="392.8" stroke="#000" stroke-width="1.4" stroke-linecap="butt"/>
<line x1="177.5" y1="390.40000000000003" x2="177.5" y2="392.8" stroke="#000" stroke-width="1.4" stroke-linecap="butt"/>
<line x1="250.2" y1="390.40000000000003" x2="250.2" y2="392.8" stroke="#000" stroke-width="1.4" stroke-linecap="butt"/>
<line x1="322.6" y1="390.40000000000003" x2="322.6" y2="392.8" stroke="#000" stroke-width="1.4" stroke-linecap="butt"/>
<rect x="396.10" y="391.60" width="9.87" height="1.20" fill="#000" stroke="#000" stroke-width="1.2"/>
<rect x="405.97" y="385.80" width="9.87" height="7.00" fill="#fff" stroke="#000" stroke-width="1.2"/>
<rect x="415.83" y="328.00" width="9.87" height="64.80" fill="#a9a9a9" stroke="#000" stroke-width="1.2"/>
<rect x="425.70" y="334.00" width="9.87" height="58.80" fill="#c80000" stroke="#000" stroke-width="1.2"/>
<rect x="435.57" y="357.90" width="9.87" height="34.90" fill="#5b93dc" stroke="#000" stroke-width="1.2"/>
<rect x="445.43" y="361.90" width="9.87" height="30.90" fill="#ffc000" stroke="#000" stroke-width="1.2"/>
<rect x="469.75" y="391.80" width="9.87" height="1.00" fill="#000" stroke="#000" stroke-width="1.2"/>
<rect x="479.62" y="389.20" width="9.87" height="3.60" fill="#fff" stroke="#000" stroke-width="1.2"/>
<rect x="489.48" y="328.90" width="9.87" height="63.90" fill="#a9a9a9" stroke="#000" stroke-width="1.2"/>
<rect x="499.35" y="290.40" width="9.87" height="102.40" fill="#c80000" stroke="#000" stroke-width="1.2"/>
<rect x="509.22" y="386.30" width="9.87" height="6.50" fill="#5b93dc" stroke="#000" stroke-width="1.2"/>
<rect x="519.08" y="378.80" width="9.87" height="14.00" fill="#ffc000" stroke="#000" stroke-width="1.2"/>
<rect x="543.40" y="391.60" width="9.87" height="1.20" fill="#000" stroke="#000" stroke-width="1.2"/>
<rect x="553.27" y="381.60" width="9.87" height="11.20" fill="#fff" stroke="#000" stroke-width="1.2"/>
<rect x="563.13" y="312.30" width="9.87" height="80.50" fill="#a9a9a9" stroke="#000" stroke-width="1.2"/>
<rect x="573.00" y="325.90" width="9.87" height="66.90" fill="#c80000" stroke="#000" stroke-width="1.2"/>
<rect x="582.87" y="389.80" width="9.87" height="3.00" fill="#5b93dc" stroke="#000" stroke-width="1.2"/>
<rect x="592.73" y="389.90" width="9.87" height="2.90" fill="#ffc000" stroke="#000" stroke-width="1.2"/>
<rect x="617.05" y="391.60" width="9.87" height="1.20" fill="#000" stroke="#000" stroke-width="1.2"/>
<rect x="626.92" y="376.70" width="9.87" height="16.10" fill="#fff" stroke="#000" stroke-width="1.2"/>
<rect x="636.78" y="342.60" width="9.87" height="50.20" fill="#a9a9a9" stroke="#000" stroke-width="1.2"/>
<rect x="646.65" y="323.80" width="9.87" height="69.00" fill="#c80000" stroke="#000" stroke-width="1.2"/>
<rect x="656.52" y="388.80" width="9.87" height="4.00" fill="#5b93dc" stroke="#000" stroke-width="1.2"/>
<rect x="666.38" y="389.60" width="9.87" height="3.20" fill="#ffc000" stroke="#000" stroke-width="1.2"/>
<line x1="410.90000000000003" y1="385.4" x2="410.90000000000003" y2="386.4" stroke="#000" stroke-width="1.3" stroke-linecap="butt"/>
<line x1="409.40000000000003" y1="385.4" x2="412.40000000000003" y2="385.4" stroke="#000" stroke-width="1.3" stroke-linecap="butt"/>
<line x1="409.40000000000003" y1="386.4" x2="412.40000000000003" y2="386.4" stroke="#000" stroke-width="1.3" stroke-linecap="butt"/>
<line x1="420.7666666666667" y1="317.8" x2="420.7666666666667" y2="338.2" stroke="#000" stroke-width="1.3" stroke-linecap="butt"/>
<line x1="419.2666666666667" y1="317.8" x2="422.2666666666667" y2="317.8" stroke="#000" stroke-width="1.3" stroke-linecap="butt"/>
<line x1="419.2666666666667" y1="338.2" x2="422.2666666666667" y2="338.2" stroke="#000" stroke-width="1.3" stroke-linecap="butt"/>
<line x1="430.6333333333334" y1="324.0" x2="430.6333333333334" y2="343.4" stroke="#000" stroke-width="1.3" stroke-linecap="butt"/>
<line x1="429.1333333333334" y1="324.0" x2="432.1333333333334" y2="324.0" stroke="#000" stroke-width="1.3" stroke-linecap="butt"/>
<line x1="429.1333333333334" y1="343.4" x2="432.1333333333334" y2="343.4" stroke="#000" stroke-width="1.3" stroke-linecap="butt"/>
<line x1="440.5" y1="350.3" x2="440.5" y2="364.3" stroke="#000" stroke-width="1.3" stroke-linecap="butt"/>
<line x1="439.0" y1="350.3" x2="442.0" y2="350.3" stroke="#000" stroke-width="1.3" stroke-linecap="butt"/>
<line x1="439.0" y1="364.3" x2="442.0" y2="364.3" stroke="#000" stroke-width="1.3" stroke-linecap="butt"/>
<line x1="450.3666666666667" y1="355.0" x2="450.3666666666667" y2="367.8" stroke="#000" stroke-width="1.3" stroke-linecap="butt"/>
<line x1="448.8666666666667" y1="355.0" x2="451.8666666666667" y2="355.0" stroke="#000" stroke-width="1.3" stroke-linecap="butt"/>
<line x1="448.8666666666667" y1="367.8" x2="451.8666666666667" y2="367.8" stroke="#000" stroke-width="1.3" stroke-linecap="butt"/>
<line x1="484.55" y1="387.8" x2="484.55" y2="389.4" stroke="#000" stroke-width="1.3" stroke-linecap="butt"/>
<line x1="483.05" y1="387.8" x2="486.05" y2="387.8" stroke="#000" stroke-width="1.3" stroke-linecap="butt"/>
<line x1="483.05" y1="389.4" x2="486.05" y2="389.4" stroke="#000" stroke-width="1.3" stroke-linecap="butt"/>
<line x1="494.4166666666667" y1="320.6" x2="494.4166666666667" y2="336.0" stroke="#000" stroke-width="1.3" stroke-linecap="butt"/>
<line x1="492.9166666666667" y1="320.6" x2="495.9166666666667" y2="320.6" stroke="#000" stroke-width="1.3" stroke-linecap="butt"/>
<line x1="492.9166666666667" y1="336.0" x2="495.9166666666667" y2="336.0" stroke="#000" stroke-width="1.3" stroke-linecap="butt"/>
<line x1="504.28333333333336" y1="269.0" x2="504.28333333333336" y2="311.2" stroke="#000" stroke-width="1.3" stroke-linecap="butt"/>
<line x1="502.78333333333336" y1="269.0" x2="505.78333333333336" y2="269.0" stroke="#000" stroke-width="1.3" stroke-linecap="butt"/>
<line x1="502.78333333333336" y1="311.2" x2="505.78333333333336" y2="311.2" stroke="#000" stroke-width="1.3" stroke-linecap="butt"/>
<line x1="514.15" y1="383.7" x2="514.15" y2="388.0" stroke="#000" stroke-width="1.3" stroke-linecap="butt"/>
<line x1="512.65" y1="383.7" x2="515.65" y2="383.7" stroke="#000" stroke-width="1.3" stroke-linecap="butt"/>
<line x1="512.65" y1="388.0" x2="515.65" y2="388.0" stroke="#000" stroke-width="1.3" stroke-linecap="butt"/>
<line x1="524.0166666666667" y1="376.9" x2="524.0166666666667" y2="379.8" stroke="#000" stroke-width="1.3" stroke-linecap="butt"/>
<line x1="522.5166666666667" y1="376.9" x2="525.5166666666667" y2="376.9" stroke="#000" stroke-width="1.3" stroke-linecap="butt"/>
<line x1="522.5166666666667" y1="379.8" x2="525.5166666666667" y2="379.8" stroke="#000" stroke-width="1.3" stroke-linecap="butt"/>
<line x1="558.1999999999999" y1="380.6" x2="558.1999999999999" y2="383.0" stroke="#000" stroke-width="1.3" stroke-linecap="butt"/>
<line x1="556.6999999999999" y1="380.6" x2="559.6999999999999" y2="380.6" stroke="#000" stroke-width="1.3" stroke-linecap="butt"/>
<line x1="556.6999999999999" y1="383.0" x2="559.6999999999999" y2="383.0" stroke="#000" stroke-width="1.3" stroke-linecap="butt"/>
<line x1="568.0666666666666" y1="303.0" x2="568.0666666666666" y2="323.2" stroke="#000" stroke-width="1.3" stroke-linecap="butt"/>
<line x1="566.5666666666666" y1="303.0" x2="569.5666666666666" y2="303.0" stroke="#000" stroke-width="1.3" stroke-linecap="butt"/>
<line x1="566.5666666666666" y1="323.2" x2="569.5666666666666" y2="323.2" stroke="#000" stroke-width="1.3" stroke-linecap="butt"/>
<line x1="577.9333333333333" y1="312.5" x2="577.9333333333333" y2="339.0" stroke="#000" stroke-width="1.3" stroke-linecap="butt"/>
<line x1="576.4333333333333" y1="312.5" x2="579.4333333333333" y2="312.5" stroke="#000" stroke-width="1.3" stroke-linecap="butt"/>
<line x1="576.4333333333333" y1="339.0" x2="579.4333333333333" y2="339.0" stroke="#000" stroke-width="1.3" stroke-linecap="butt"/>
<line x1="587.8" y1="389.0" x2="587.8" y2="389.8" stroke="#000" stroke-width="1.3" stroke-linecap="butt"/>
<line x1="586.3" y1="389.0" x2="589.3" y2="389.0" stroke="#000" stroke-width="1.3" stroke-linecap="butt"/>
<line x1="586.3" y1="389.8" x2="589.3" y2="389.8" stroke="#000" stroke-width="1.3" stroke-linecap="butt"/>
<line x1="597.6666666666666" y1="389.0" x2="597.6666666666666" y2="389.8" stroke="#000" stroke-width="1.3" stroke-linecap="butt"/>
<line x1="596.1666666666666" y1="389.0" x2="599.1666666666666" y2="389.0" stroke="#000" stroke-width="1.3" stroke-linecap="butt"/>
<line x1="596.1666666666666" y1="389.8" x2="599.1666666666666" y2="389.8" stroke="#000" stroke-width="1.3" stroke-linecap="butt"/>
<line x1="631.85" y1="373.8" x2="631.85" y2="378.2" stroke="#000" stroke-width="1.3" stroke-linecap="butt"/>
<line x1="630.35" y1="373.8" x2="633.35" y2="373.8" stroke="#000" stroke-width="1.3" stroke-linecap="butt"/>
<line x1="630.35" y1="378.2" x2="633.35" y2="378.2" stroke="#000" stroke-width="1.3" stroke-linecap="butt"/>
<line x1="641.7166666666667" y1="338.6" x2="641.7166666666667" y2="346.4" stroke="#000" stroke-width="1.3" stroke-linecap="butt"/>
<line x1="640.2166666666667" y1="338.6" x2="643.2166666666667" y2="338.6" stroke="#000" stroke-width="1.3" stroke-linecap="butt"/>
<line x1="640.2166666666667" y1="346.4" x2="643.2166666666667" y2="346.4" stroke="#000" stroke-width="1.3" stroke-linecap="butt"/>
<line x1="651.5833333333334" y1="315.4" x2="651.5833333333334" y2="331.0" stroke="#000" stroke-width="1.3" stroke-linecap="butt"/>
<line x1="650.0833333333334" y1="315.4" x2="653.0833333333334" y2="315.4" stroke="#000" stroke-width="1.3" stroke-linecap="butt"/>
<line x1="650.0833333333334" y1="331.0" x2="653.0833333333334" y2="331.0" stroke="#000" stroke-width="1.3" stroke-linecap="butt"/>
<line x1="661.45" y1="387.4" x2="661.45" y2="389.4" stroke="#000" stroke-width="1.3" stroke-linecap="butt"/>
<line x1="659.95" y1="387.4" x2="662.95" y2="387.4" stroke="#000" stroke-width="1.3" stroke-linecap="butt"/>
<line x1="659.95" y1="389.4" x2="662.95" y2="389.4" stroke="#000" stroke-width="1.3" stroke-linecap="butt"/>
<line x1="671.3166666666667" y1="388.4" x2="671.3166666666667" y2="389.8" stroke="#000" stroke-width="1.3" stroke-linecap="butt"/>
<line x1="669.8166666666667" y1="388.4" x2="672.8166666666667" y2="388.4" stroke="#000" stroke-width="1.3" stroke-linecap="butt"/>
<line x1="669.8166666666667" y1="389.8" x2="672.8166666666667" y2="389.8" stroke="#000" stroke-width="1.3" stroke-linecap="butt"/>
<text x="410.90" y="388.57" font-size="17" font-family='"Liberation Sans", sans-serif' text-anchor="middle" stroke="#000" stroke-width="0.3">*</text>
<text x="420.77" y="320.02" font-size="17" font-family='"Liberation Sans", sans-serif' text-anchor="middle" stroke="#000" stroke-width="0.3">*</text>
<text x="430.63" y="328.02" font-size="17" font-family='"Liberation Sans", sans-serif' text-anchor="middle" stroke="#000" stroke-width="0.3">*</text>
<text x="440.50" y="354.42" font-size="17" font-family='"Liberation Sans", sans-serif' text-anchor="middle" stroke="#000" stroke-width="0.3">*</text>
<text x="450.37" y="359.07" font-size="17" font-family='"Liberation Sans", sans-serif' text-anchor="middle" stroke="#000" stroke-width="0.3">*</text>
<text x="494.42" y="324.57" font-size="17" font-family='"Liberation Sans", sans-serif' text-anchor="middle" stroke="#000" stroke-width="0.3">*</text>
<text x="504.28" y="272.77" font-size="17" font-family='"Liberation Sans", sans-serif' text-anchor="middle" stroke="#000" stroke-width="0.3">*</text>
<text x="524.02" y="382.47" font-size="17" font-family='"Liberation Sans", sans-serif' text-anchor="middle" stroke="#000" stroke-width="0.3">*</text>
<text x="558.20" y="384.02" font-size="17" font-family='"Liberation Sans", sans-serif' text-anchor="middle" stroke="#000" stroke-width="0.3">*</text>
<text x="568.07" y="306.67" font-size="17" font-family='"Liberation Sans", sans-serif' text-anchor="middle" stroke="#000" stroke-width="0.3">*</text>
<text x="577.93" y="316.37" font-size="17" font-family='"Liberation Sans", sans-serif' text-anchor="middle" stroke="#000" stroke-width="0.3">*</text>
<text x="631.85" y="377.72" font-size="17" font-family='"Liberation Sans", sans-serif' text-anchor="middle" stroke="#000" stroke-width="0.3">*</text>
<text x="641.72" y="342.82" font-size="17" font-family='"Liberation Sans", sans-serif' text-anchor="middle" stroke="#000" stroke-width="0.3">*</text>
<text x="651.58" y="320.37" font-size="17" font-family='"Liberation Sans", sans-serif' text-anchor="middle" stroke="#000" stroke-width="0.3">*</text>
<line x1="388.9" y1="247.3" x2="388.9" y2="393.75" stroke="#000" stroke-width="1.7" stroke-linecap="butt"/>
<line x1="387.0" y1="392.8" x2="684.4" y2="392.8" stroke="#000" stroke-width="1.9" stroke-linecap="butt"/>
<line x1="386.9" y1="392.8" x2="388.9" y2="392.8" stroke="#000" stroke-width="1.4" stroke-linecap="butt"/>
<text x="384.8" y="396.7" font-size="10.0" font-family='"Liberation Sans", sans-serif' font-weight="normal" text-anchor="end" textLength="4.78" lengthAdjust="spacingAndGlyphs">0</text>
<line x1="386.9" y1="372.10200000000003" x2="388.9" y2="372.10200000000003" stroke="#000" stroke-width="1.4" stroke-linecap="butt"/>
<text x="384.8" y="376.002" font-size="10.0" font-family='"Liberation Sans", sans-serif' font-weight="normal" text-anchor="end" textLength="9.57" lengthAdjust="spacingAndGlyphs">20</text>
<line x1="386.9" y1="351.404" x2="388.9" y2="351.404" stroke="#000" stroke-width="1.4" stroke-linecap="butt"/>
<text x="384.8" y="355.304" font-size="10.0" font-family='"Liberation Sans", sans-serif' font-weight="normal" text-anchor="end" textLength="9.57" lengthAdjust="spacingAndGlyphs">40</text>
<line x1="386.9" y1="330.706" x2="388.9" y2="330.706" stroke="#000" stroke-width="1.4" stroke-linecap="butt"/>
<text x="384.8" y="334.606" font-size="10.0" font-family='"Liberation Sans", sans-serif' font-weight="normal" text-anchor="end" textLength="9.57" lengthAdjust="spacingAndGlyphs">60</text>
<line x1="386.9" y1="310.00800000000004" x2="388.9" y2="310.00800000000004" stroke="#000" stroke-width="1.4" stroke-linecap="butt"/>
<text x="384.8" y="313.908" font-size="10.0" font-family='"Liberation Sans", sans-serif' font-weight="normal" text-anchor="end" textLength="9.57" lengthAdjust="spacingAndGlyphs">80</text>
<line x1="386.9" y1="289.31" x2="388.9" y2="289.31" stroke="#000" stroke-width="1.4" stroke-linecap="butt"/>
<text x="384.8" y="293.21" font-size="10.0" font-family='"Liberation Sans", sans-serif' font-weight="normal" text-anchor="end" textLength="14.35" lengthAdjust="spacingAndGlyphs">100</text>
<line x1="386.9" y1="268.612" x2="388.9" y2="268.612" stroke="#000" stroke-width="1.4" stroke-linecap="butt"/>
<text x="384.8" y="272.512" font-size="10.0" font-family='"Liberation Sans", sans-serif' font-weight="normal" text-anchor="end" textLength="14.35" lengthAdjust="spacingAndGlyphs">120</text>
<line x1="386.9" y1="247.91400000000002" x2="388.9" y2="247.91400000000002" stroke="#000" stroke-width="1.4" stroke-linecap="butt"/>
<text x="384.8" y="251.81400000000002" font-size="10.0" font-family='"Liberation Sans", sans-serif' font-weight="normal" text-anchor="end" textLength="14.35" lengthAdjust="spacingAndGlyphs">140</text>
<line x1="462.6" y1="390.40000000000003" x2="462.6" y2="392.8" stroke="#000" stroke-width="1.4" stroke-linecap="butt"/>
<line x1="536.1" y1="390.40000000000003" x2="536.1" y2="392.8" stroke="#000" stroke-width="1.4" stroke-linecap="butt"/>
<line x1="610.0" y1="390.40000000000003" x2="610.0" y2="392.8" stroke="#000" stroke-width="1.4" stroke-linecap="butt"/>
<line x1="683.6" y1="390.40000000000003" x2="683.6" y2="392.8" stroke="#000" stroke-width="1.4" stroke-linecap="butt"/>
<text x="0.7" y="11.6" font-size="15.6" font-family='"Liberation Serif", serif' font-weight="bold" text-anchor="start">A</text>
<text x="351.0" y="11.4" font-size="16.0" font-family='"Liberation Serif", serif' font-weight="bold" text-anchor="start">B</text>
<text x="1.3" y="236.3" font-size="15.8" font-family='"Liberation Serif", serif' font-weight="bold" text-anchor="start">C</text>
<text x="350.3" y="236.0" font-size="15.8" font-family='"Liberation Serif", serif' font-weight="bold" text-anchor="start">D</text>
<text transform="translate(14.8,145.8) rotate(-90)" x="0" y="0" font-size="12" font-family='"Liberation Sans", sans-serif' textLength="100.20000000000002" lengthAdjust="spacingAndGlyphs">Relative Expression</text>
<text transform="translate(367.6,145.8) rotate(-90)" x="0" y="0" font-size="12" font-family='"Liberation Sans", sans-serif' textLength="99.20000000000002" lengthAdjust="spacingAndGlyphs">Relative Expression</text>
<text transform="translate(9.9,370.8) rotate(-90)" x="0" y="0" font-size="12" font-family='"Liberation Sans", sans-serif' textLength="99.90000000000003" lengthAdjust="spacingAndGlyphs">Relative Expression</text>
<text transform="translate(367.6,370.8) rotate(-90)" x="0" y="0" font-size="12" font-family='"Liberation Sans", sans-serif' textLength="99.90000000000003" lengthAdjust="spacingAndGlyphs">Relative Expression</text>
<text x="69.9" y="195.9" font-size="10.4" font-family='"Liberation Sans", sans-serif' font-weight="normal" text-anchor="middle">Root</text>
<text x="141.0" y="195.9" font-size="10.4" font-family='"Liberation Sans", sans-serif' font-weight="normal" text-anchor="middle">Leaf</text>
<text x="213.7" y="195.9" font-size="10.4" font-family='"Liberation Sans", sans-serif' font-weight="normal" text-anchor="middle">Flag</text>
<text x="285.5" y="195.9" font-size="10.4" font-family='"Liberation Sans", sans-serif' font-weight="normal" text-anchor="middle">Spikelet</text>
<text x="414.6" y="196.8" font-size="10.4" font-family='"Liberation Sans", sans-serif' font-weight="normal" text-anchor="middle">0</text>
<text x="461.4" y="196.8" font-size="10.4" font-family='"Liberation Sans", sans-serif' font-weight="normal" text-anchor="middle">12</text>
<text x="513.6" y="196.8" font-size="10.4" font-family='"Liberation Sans", sans-serif' font-weight="normal" text-anchor="middle">24</text>
<text x="560.0" y="196.8" font-size="10.4" font-family='"Liberation Sans", sans-serif' font-weight="normal" text-anchor="middle">48</text>
<text x="609.2" y="196.8" font-size="10.4" font-family='"Liberation Sans", sans-serif' font-weight="normal" text-anchor="middle">72</text>
<text x="658.5" y="196.8" font-size="10.4" font-family='"Liberation Sans", sans-serif' font-weight="normal" text-anchor="middle">120</text>
<text x="534.5" y="211.1" font-size="11.2" font-family='"Liberation Sans", sans-serif' font-weight="normal" text-anchor="middle" textLength="119.2" lengthAdjust="spacingAndGlyphs">Hours post inoculation (hpi)</text>
<text x="69.85" y="407.1" font-size="10.4" font-family='"Liberation Sans", sans-serif' font-weight="normal" text-anchor="middle">Wound</text>
<text x="139.7" y="407.1" font-size="10.4" font-family='"Liberation Sans", sans-serif' font-weight="normal" text-anchor="middle">LT</text>
<text x="217.6" y="407.1" font-size="10.4" font-family='"Liberation Sans", sans-serif' font-weight="normal" text-anchor="middle">PEG</text>
<text x="292.8" y="407.1" font-size="10.4" font-family='"Liberation Sans", sans-serif' font-weight="normal" text-anchor="middle">NaCl</text>
<text x="431.1" y="407.1" font-size="10.4" font-family='"Liberation Sans", sans-serif' font-weight="normal" text-anchor="middle">ABA</text>
<text x="504.45" y="407.1" font-size="10.4" font-family='"Liberation Sans", sans-serif' font-weight="normal" text-anchor="middle">ETH</text>
<text x="574.8" y="407.1" font-size="10.4" font-family='"Liberation Sans", sans-serif' font-weight="normal" text-anchor="middle">MeJA</text>
<text x="647.5" y="407.1" font-size="10.4" font-family='"Liberation Sans", sans-serif' font-weight="normal" text-anchor="middle">SA</text>
<rect x="45.00" y="16.60" width="6.9" height="6.9" fill="#000" stroke="#000" stroke-width="2.0" stroke-linejoin="round"/>
<text x="59.8" y="24.2" font-size="10.5" font-family='"Liberation Sans", sans-serif' font-weight="normal" text-anchor="start" textLength="60.3" lengthAdjust="spacingAndGlyphs">TaSTP13-4A</text>
<rect x="142.20" y="16.60" width="6.9" height="6.9" fill="#fff" stroke="#000" stroke-width="2.0" stroke-linejoin="round"/>
<text x="156.9" y="24.2" font-size="10.5" font-family='"Liberation Sans", sans-serif' font-weight="normal" text-anchor="start" textLength="60.3" lengthAdjust="spacingAndGlyphs">TaSTP13-4B</text>
<rect x="237.60" y="16.60" width="6.9" height="6.9" fill="#a9a9a9" stroke="#000" stroke-width="2.0" stroke-linejoin="round"/>
<text x="251.2" y="24.2" font-size="10.5" font-family='"Liberation Sans", sans-serif' font-weight="normal" text-anchor="start" textLength="60.3" lengthAdjust="spacingAndGlyphs">TaSTP13-4D</text>
<rect x="405.50" y="16.00" width="6.9" height="6.9" fill="#000" stroke="#000" stroke-width="2.0" stroke-linejoin="round"/>
<text x="419.8" y="24.2" font-size="10.5" font-family='"Liberation Sans", sans-serif' font-weight="normal" text-anchor="start" textLength="60.3" lengthAdjust="spacingAndGlyphs">TaSTP13-4A</text>
<rect x="502.60" y="16.00" width="6.9" height="6.9" fill="#fff" stroke="#000" stroke-width="2.0" stroke-linejoin="round"/>
<text x="516.9" y="24.2" font-size="10.5" font-family='"Liberation Sans", sans-serif' font-weight="normal" text-anchor="start" textLength="60.3" lengthAdjust="spacingAndGlyphs">TaSTP13-4B</text>
<rect x="598.50" y="16.00" width="6.9" height="6.9" fill="#a9a9a9" stroke="#000" stroke-width="2.0" stroke-linejoin="round"/>
<text x="611.0" y="24.2" font-size="10.5" font-family='"Liberation Sans", sans-serif' font-weight="normal" text-anchor="start" textLength="60.3" lengthAdjust="spacingAndGlyphs">TaSTP13-4D</text>
<rect x="81.20" y="236.70" width="4.00" height="4.60" fill="#000" stroke="#000" stroke-width="1.4"/>
<text x="88.1" y="242.4" font-size="10.0" font-family='"Liberation Sans", sans-serif' font-weight="normal" text-anchor="start">0hpt</text>
<rect x="117.50" y="236.70" width="4.00" height="4.60" fill="#fff" stroke="#000" stroke-width="1.4"/>
<text x="123.4" y="242.4" font-size="10.0" font-family='"Liberation Sans", sans-serif' font-weight="normal" text-anchor="start">2hpt</text>
<rect x="153.10" y="236.70" width="4.00" height="4.60" fill="#a9a9a9" stroke="#000" stroke-width="1.4"/>
<text x="158.9" y="242.4" font-size="10.0" font-family='"Liberation Sans", sans-serif' font-weight="normal" text-anchor="start">6hpt</text>
<rect x="189.50" y="236.70" width="4.00" height="4.60" fill="#c80000" stroke="#000" stroke-width="1.4"/>
<text x="196.6" y="242.4" font-size="10.0" font-family='"Liberation Sans", sans-serif' font-weight="normal" text-anchor="start">12hpt</text>
<rect x="229.90" y="236.70" width="4.00" height="4.60" fill="#5b93dc" stroke="#000" stroke-width="1.4"/>
<text x="236.8" y="242.4" font-size="10.0" font-family='"Liberation Sans", sans-serif' font-weight="normal" text-anchor="start">24hpt</text>
<rect x="270.10" y="236.70" width="4.00" height="4.60" fill="#ffc000" stroke="#000" stroke-width="1.4"/>
<text x="277.6" y="242.4" font-size="10.0" font-family='"Liberation Sans", sans-serif' font-weight="normal" text-anchor="start">48hpt</text>
<rect x="423.90" y="236.70" width="4.00" height="4.60" fill="#000" stroke="#000" stroke-width="1.4"/>
<text x="430.79999999999995" y="242.4" font-size="10.0" font-family='"Liberation Sans", sans-serif' font-weight="normal" text-anchor="start">0hpt</text>
<rect x="460.20" y="236.70" width="4.00" height="4.60" fill="#fff" stroke="#000" stroke-width="1.4"/>
<text x="466.1" y="242.4" font-size="10.0" font-family='"Liberation Sans", sans-serif' font-weight="normal" text-anchor="start">2hpt</text>
<rect x="495.80" y="236.70" width="4.00" height="4.60" fill="#a9a9a9" stroke="#000" stroke-width="1.4"/>
<text x="501.6" y="242.4" font-size="10.0" font-family='"Liberation Sans", sans-serif' font-weight="normal" text-anchor="start">6hpt</text>
<rect x="532.20" y="236.70" width="4.00" height="4.60" fill="#c80000" stroke="#000" stroke-width="1.4"/>
<text x="539.3" y="242.4" font-size="10.0" font-family='"Liberation Sans", sans-serif' font-weight="normal" text-anchor="start">12hpt</text>
<rect x="572.60" y="236.70" width="4.00" height="4.60" fill="#5b93dc" stroke="#000" stroke-width="1.4"/>
<text x="579.5" y="242.4" font-size="10.0" font-family='"Liberation Sans", sans-serif' font-weight="normal" text-anchor="start">24hpt</text>
<rect x="612.80" y="236.70" width="4.00" height="4.60" fill="#ffc000" stroke="#000" stroke-width="1.4"/>
<text x="620.3" y="242.4" font-size="10.0" font-family='"Liberation Sans", sans-serif' font-weight="normal" text-anchor="start">48hpt</text>
</svg></body></html>
